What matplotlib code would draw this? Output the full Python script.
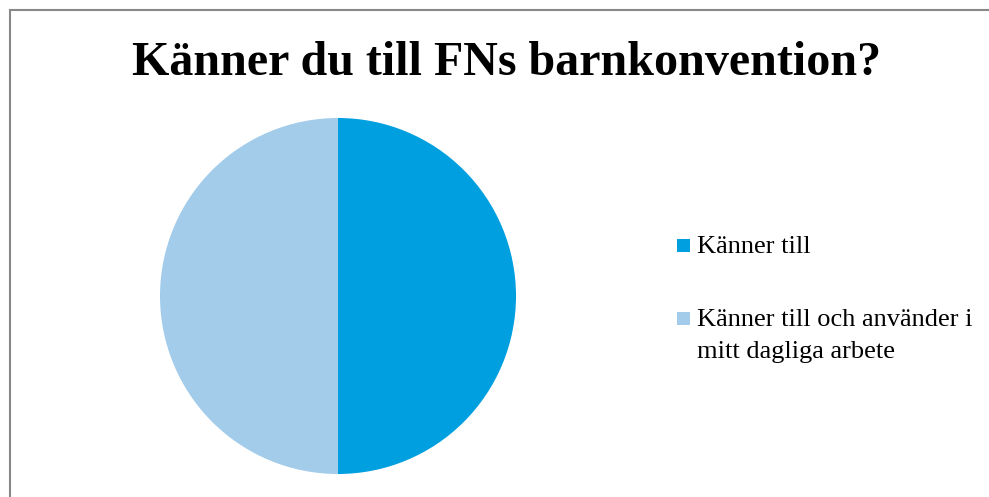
import matplotlib.pyplot as plt
from matplotlib.patches import Rectangle

title = "Känner du till FNs barnkonvention?"
labels = ["Känner till", "Känner till och använder i\nmitt dagliga arbete"]
values = [50, 50]
colors = ["#009FDF", "#A3CCEB"]

W, H = 989, 497
fig = plt.figure(figsize=(W / 100, H / 100), dpi=100)

# chart border (only top and left visible in the crop)
fig.patches.append(Rectangle((10 / W, -0.1), 1.2, 1 - 10 / H + 0.1,
                             transform=fig.transFigure, fill=False,
                             edgecolor="#888888", linewidth=1.5))

fig.text(507 / W, 1 - 75 / H, title, ha="center", va="baseline",
         family="Liberation Serif", weight="bold", fontsize=34.6)

# pie centred at (338, 296), radius 178 px
r = 178
ax = fig.add_axes([(338 - r) / W, (H - 296 - r) / H, 2 * r / W, 2 * r / H])
wedges, _ = ax.pie(values, colors=colors, startangle=90, counterclock=False,
                   radius=1)
ax.set_xlim(-1, 1)
ax.set_ylim(-1, 1)
ax.set_aspect("equal")
ax.axis("off")

# legend drawn by hand so the marker sits on the first text line
baselines = [253, 326]
line_step = 32
for lab, col, base in zip(labels, colors, baselines):
    fig.patches.append(Rectangle((677 / W, 1 - (base - 1) / H), 13 / W, 13 / H,
                                 transform=fig.transFigure, facecolor=col,
                                 edgecolor="none"))
    for k, line in enumerate(lab.split("\n")):
        fig.text(697 / W, 1 - (base + k * line_step) / H, line,
                 ha="left", va="baseline", family="Liberation Serif",
                 fontsize=19)

fig.savefig("out.png", dpi=100)
